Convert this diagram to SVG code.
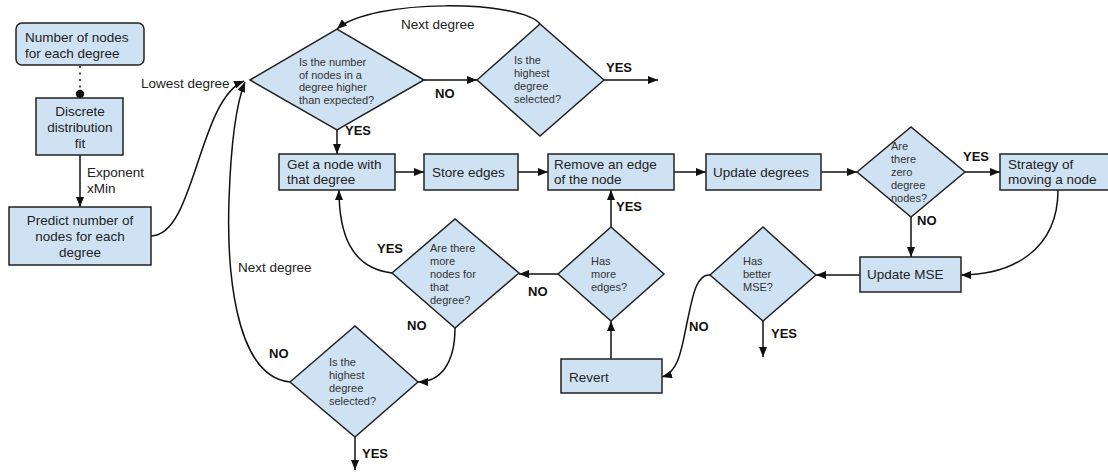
<svg xmlns="http://www.w3.org/2000/svg" width="1108" height="472" viewBox="0 0 1108 472">
  <defs>
    <marker id="arrow" viewBox="0 0 10 8" refX="10" refY="4" markerWidth="10" markerHeight="8" markerUnits="userSpaceOnUse" orient="auto">
      <path d="M0,0 L10,4 L0,8 Z" fill="#111"/>
    </marker>
    <style>
      .box { fill: #cfe2f3; stroke: #222; stroke-width: 1.5; }
      .dia { fill: #cfe2f3; stroke: #222; stroke-width: 1.5; stroke-linejoin: miter; }
      .txt { font-family: "Liberation Sans", Arial, sans-serif; font-size: 13.5px; fill: #222; }
      .small { font-family: "Liberation Sans", Arial, sans-serif; font-size: 11px; fill: #333; }
      .lbl { font-family: "Liberation Sans", Arial, sans-serif; font-size: 13px; font-weight: bold; fill: #111; }
      .mid { text-anchor: middle; }
      .edge { fill: none; stroke: #111; stroke-width: 1.5; marker-end: url(#arrow); }
      .plain { fill: none; stroke: #111; stroke-width: 1.5; }
    </style>
  </defs>
  <rect width="1108" height="472" fill="#ffffff"/>

  <!-- connectors -->
  <g id="connectors">
    <path class="plain" d="M80,66 L80,90" stroke-dasharray="2,4.5" stroke-width="2.2"/>
    <circle cx="80" cy="94" r="4.2" fill="#111"/>
    <path class="edge" d="M80,155 L80,207"/>
    <path class="edge" d="M151,236 C195,236 198,100 244,81"/>
    <path class="edge" d="M290,382 C232,376 227,260 229,200 C231,140 236,104 245,82"/>
    <path class="edge" d="M540,24 C522,0 372,-2 337,29"/>
    <path class="edge" d="M424,80 L477,80"/>
    <path class="edge" d="M604,80 L658,80"/>
    <path class="edge" d="M337,130 L337,154"/>
    <path class="edge" d="M395,172 L424,172"/>
    <path class="edge" d="M518,172 L548,172"/>
    <path class="edge" d="M674,172 L706,172"/>
    <path class="edge" d="M821,172 L857,172"/>
    <path class="edge" d="M965,172 L1000,172"/>
    <path class="edge" d="M911,217 L911,257"/>
    <path class="edge" d="M1058,190 C1058,250 1012,275 961,275"/>
    <path class="edge" d="M860,275 L816,275"/>
    <path class="edge" d="M763,321 L763,357"/>
    <path class="edge" d="M710,275 C696,273 692,300 688,318 C682,345 680,372 662,377"/>
    <path class="edge" d="M611,359 L611,321"/>
    <path class="edge" d="M611,227 L611,190"/>
    <path class="edge" d="M558,274 L519,274"/>
    <path class="edge" d="M392,273 C350,268 339,232 339,190"/>
    <path class="edge" d="M455,328 C455,364 440,382 418,382"/>
    <path class="edge" d="M355,437 L355,470"/>
  </g>

  <!-- connector labels -->
  <g id="labels">
    <text class="txt" x="141" y="88">Lowest degree</text>
    <text class="txt" x="87" y="177">Exponent</text>
    <text class="txt" x="87" y="193">xMin</text>
    <text class="txt" x="401" y="29">Next degree</text>
    <text class="txt" x="238" y="272">Next degree</text>
    <text class="lbl" x="435" y="98">NO</text>
    <text class="lbl" x="345" y="135">YES</text>
    <text class="lbl" x="606" y="72">YES</text>
    <text class="lbl" x="963" y="161">YES</text>
    <text class="lbl" x="917" y="225">NO</text>
    <text class="lbl" x="616" y="211">YES</text>
    <text class="lbl" x="377" y="253">YES</text>
    <text class="lbl" x="528" y="296">NO</text>
    <text class="lbl" x="407" y="330">NO</text>
    <text class="lbl" x="269" y="358">NO</text>
    <text class="lbl" x="362" y="458">YES</text>
    <text class="lbl" x="689" y="331">NO</text>
    <text class="lbl" x="771" y="338">YES</text>
  </g>

  <g id="node-count">
    <rect class="box" x="16" y="23" width="128" height="42" rx="6"/>
    <text class="txt" x="25" y="42">Number of nodes</text>
    <text class="txt" x="25" y="58">for each degree</text>
  </g>

  <g id="fit">
    <rect class="box" x="36" y="98" width="87" height="57"/>
    <text class="txt mid" x="80" y="116">Discrete</text>
    <text class="txt mid" x="80" y="132">distribution</text>
    <text class="txt mid" x="80" y="148">fit</text>
  </g>

  <g id="predict">
    <rect class="box" x="9" y="207" width="142" height="58"/>
    <text class="txt mid" x="80" y="225">Predict number of</text>
    <text class="txt mid" x="80" y="241">nodes for each</text>
    <text class="txt mid" x="80" y="257">degree</text>
  </g>

  <g id="higher-than-expected">
    <polygon class="dia" points="250,80 337,29 424,80 337,130"/>
    <text class="small" x="299" y="66">Is the number</text>
    <text class="small" x="299" y="78.5">of nodes in a</text>
    <text class="small" x="299" y="91">degree higher</text>
    <text class="small" x="299" y="103.5">than expected?</text>
  </g>

  <g id="highest-top">
    <polygon class="dia" points="477,80 540,24 604,80 540,136"/>
    <text class="small" x="514" y="64">Is the</text>
    <text class="small" x="514" y="77">highest</text>
    <text class="small" x="514" y="90">degree</text>
    <text class="small" x="514" y="103">selected?</text>
  </g>

  <g id="get-node">
    <rect class="box" x="279" y="154" width="116" height="36"/>
    <text class="txt" x="287" y="169">Get a node with</text>
    <text class="txt" x="287" y="184">that degree</text>
  </g>

  <g id="store-edges">
    <rect class="box" x="424" y="154" width="94" height="36"/>
    <text class="txt" x="432" y="177">Store edges</text>
  </g>

  <g id="remove-edge">
    <rect class="box" x="548" y="154" width="126" height="36"/>
    <text class="txt" x="554" y="169">Remove an edge</text>
    <text class="txt" x="554" y="184">of the node</text>
  </g>

  <g id="update-degrees">
    <rect class="box" x="706" y="154" width="115" height="36"/>
    <text class="txt" x="713" y="177">Update degrees</text>
  </g>

  <g id="zero-degree">
    <polygon class="dia" points="857,172 911,127 965,172 911,217"/>
    <text class="small" x="891" y="150">Are</text>
    <text class="small" x="891" y="163">there</text>
    <text class="small" x="891" y="176">zero</text>
    <text class="small" x="891" y="189">degree</text>
    <text class="small" x="891" y="202">nodes?</text>
  </g>

  <g id="strategy">
    <rect class="box" x="1000" y="154" width="112" height="36"/>
    <text class="txt" x="1008" y="169">Strategy of</text>
    <text class="txt" x="1008" y="184">moving a node</text>
  </g>

  <g id="update-mse">
    <rect class="box" x="860" y="257" width="101" height="35"/>
    <text class="txt" x="867" y="279">Update MSE</text>
  </g>

  <g id="better-mse">
    <polygon class="dia" points="710,275 763,227 816,275 763,321"/>
    <text class="small" x="743" y="265">Has</text>
    <text class="small" x="743" y="278">better</text>
    <text class="small" x="743" y="291">MSE?</text>
  </g>

  <g id="revert">
    <rect class="box" x="561" y="359" width="101" height="34"/>
    <text class="txt" x="569" y="382">Revert</text>
  </g>

  <g id="more-edges">
    <polygon class="dia" points="558,274 611,227 664,274 611,321"/>
    <text class="small" x="591" y="265">Has</text>
    <text class="small" x="591" y="278">more</text>
    <text class="small" x="591" y="291">edges?</text>
  </g>

  <g id="more-nodes">
    <polygon class="dia" points="392,273 455,219 519,273 455,328"/>
    <text class="small" x="430" y="252">Are there</text>
    <text class="small" x="430" y="265">more</text>
    <text class="small" x="430" y="278">nodes for</text>
    <text class="small" x="430" y="291">that</text>
    <text class="small" x="430" y="304">degree?</text>
  </g>

  <g id="highest-bottom">
    <polygon class="dia" points="290,382 355,326 418,382 355,437"/>
    <text class="small" x="329" y="366">Is the</text>
    <text class="small" x="329" y="379">highest</text>
    <text class="small" x="329" y="392">degree</text>
    <text class="small" x="329" y="405">selected?</text>
  </g>
</svg>
